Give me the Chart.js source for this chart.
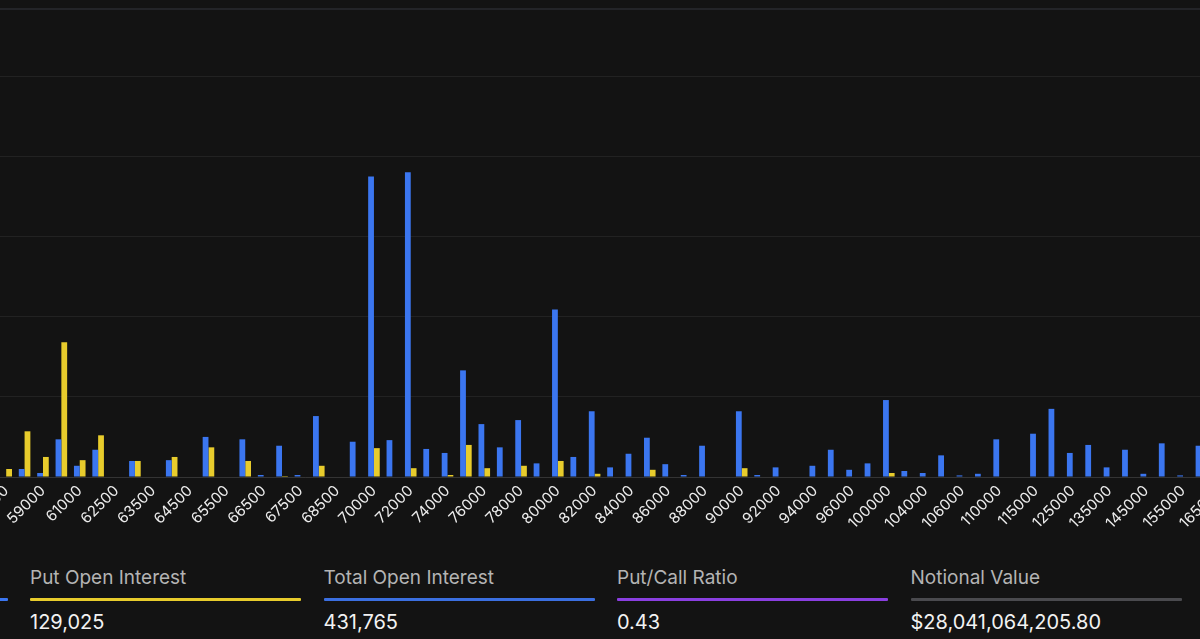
<!DOCTYPE html>
<html>
<head>
<meta charset="utf-8">
<script src="https://cdn.jsdelivr.net/npm/chart.js@4"></script>
<style>
  html,body{margin:0;padding:0;background:#131313;}
  #wrap{position:relative;width:1200px;height:639px;overflow:hidden;background:#131313;font-family:Inter,"Open Sans",sans-serif;}
  #topline{position:absolute;left:0;top:8px;width:1200px;height:2px;background:#232428;}
  #chartBox{position:absolute;left:-3px;top:-4px;width:1232px;height:545px;}
  .stat{position:absolute;top:566px;width:271px;}
  .stat .name{font-size:19px;color:#b4b4b4;line-height:24px;height:24px;white-space:nowrap;}
  .stat .bar{height:3px;margin-top:8px;border-radius:1px;}
  .stat .val{font-size:20px;color:#f2f2f2;font-weight:400;margin-top:9px;line-height:24px;white-space:nowrap;}
</style>
</head>
<body>
<div id="wrap">
  <div id="topline"></div>
  <div id="chartBox"><canvas id="oiChart"></canvas></div>
  <div id="stats"></div>
</div>
<script>
const strikes = ["57000","58000","59000","60000","61000","62000","62500","63000","63500","64000",
  "64500","65000","65500","66000","66500","67000","67500","68000","68500","69000",
  "70000","71000","72000","73000","74000","75000","76000","77000","78000","79000",
  "80000","81000","82000","83000","84000","85000","86000","87000","88000","89000",
  "90000","91000","92000","93000","94000","95000","96000","98000","100000","102000",
  "104000","105000","106000","108000","110000","112000","115000","120000","125000","130000",
  "135000","140000","145000","150000","155000","160000","165000"];

const callOI = [0,1000,500,4700,1400,3400,0,2000,0,2100,
  0,5000,0,4700,250,3900,250,7600,0,4400,
  37500,4600,38000,3500,3000,13300,6600,3700,7100,1700,
  20900,2500,8200,1200,2900,4900,1600,250,3900,0,
  8200,250,1200,0,1400,3400,900,1700,9600,750,
  500,2700,200,400,4700,0,5400,8500,3000,4000,
  1200,3400,400,4200,200,3900,0];

const putOI = [1000,5700,2500,16800,2100,5200,0,2000,0,2500,
  0,3700,0,2000,0,120,0,1400,0,0,
  3600,0,1100,0,250,4000,1100,0,1400,0,
  2000,0,400,0,0,900,0,0,0,0,
  1100,0,0,0,0,0,0,0,500,0,
  0,0,0,0,0,0,0,0,0,0,
  0,0,0,0,0,0,0];

const yMax = 60000;
const yStep = 10000;

const statNames = ["Call Open Interest","Put Open Interest","Total Open Interest","Put/Call Ratio","Notional Value"];
const statValues = ["302,740","129,025","431,765","0.43","$28,041,064,205.80"];
const statColors = ["#3b76f0","#e8cc2c","#3b6fe0","#8a3fe0","#4a4a4e"];

const BLUE = '#3b76f0';
const YELLOW = '#e8cc2c';

const stats = document.getElementById('stats');
statNames.forEach((n, i) => {
  const d = document.createElement('div');
  d.className = 'stat';
  d.style.left = (-263.5 + 293.5 * i) + 'px';
  d.innerHTML = '<div class="name">' + n + '</div><div class="bar" style="background:' + statColors[i] + '"></div><div class="val">' + statValues[i] + '</div>';
  stats.appendChild(d);
});

const ctx = document.getElementById('oiChart');
new Chart(ctx, {
  type: 'bar',
  data: {
    labels: strikes,
    datasets: [
      { label: 'Call Open Interest', data: callOI, backgroundColor: BLUE, borderWidth: 0,
        categoryPercentage: 0.63, barPercentage: 1 },
      { label: 'Put Open Interest', data: putOI, backgroundColor: YELLOW, borderWidth: 0,
        categoryPercentage: 0.63, barPercentage: 1 }
    ]
  },
  options: {
    responsive: true,
    maintainAspectRatio: false,
    animation: false,
    events: [],
    layout: { padding: 0 },
    plugins: { legend: { display: false }, tooltip: { enabled: false } },
    scales: {
      x: {
        offset: true,
        grid: { display: false, drawTicks: false },
        border: { display: true, color: '#343434', width: 1 },
        ticks: {
          autoSkip: false,
          minRotation: 45,
          maxRotation: 45,
          padding: 5,
          color: '#ededed',
          font: { family: 'Inter', size: 15 },
          callback: function (v, i) { return i % 2 === 0 ? this.getLabelForValue(v) : ''; }
        },
        afterFit: (s) => { s.height = 64; s.paddingLeft = 0; s.paddingRight = 0; }
      },
      y: {
        min: 0,
        max: yMax,
        grid: { color: '#222222', drawTicks: false },
        border: { display: false },
        ticks: { display: false, stepSize: yStep },
        afterFit: (s) => { s.width = 0; }
      }
    }
  }
});
</script>
</body>
</html>
